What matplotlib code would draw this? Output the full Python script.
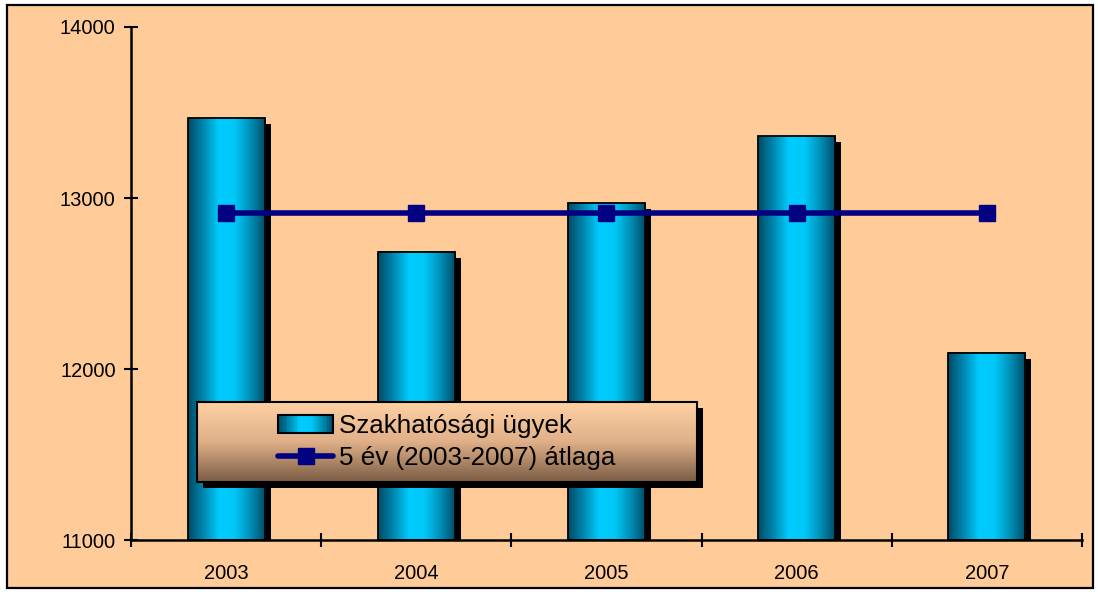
import numpy as np
import matplotlib.pyplot as plt
import matplotlib.transforms as mtransforms
from matplotlib.colors import LinearSegmentedColormap
from matplotlib.patches import Rectangle
from matplotlib.lines import Line2D
from matplotlib.legend_handler import HandlerBase

plt.rcParams['font.family'] = ['Liberation Sans', 'DejaVu Sans']

# adatok
evek = ['2003', '2004', '2005', '2006', '2007']
ugyek = [13465, 12685, 12970, 13362, 12095]
atlag = [12915, 12915, 12915, 12915, 12915]

bar_cmap = LinearSegmentedColormap.from_list(
    'henger', ['#004a66', '#0088b0', '#00ccff', '#00c8f8', '#0090b8', '#004a66'])
leg_cmap = LinearSegmentedColormap.from_list(
    'legenda', ['#ffd2a4', '#e0b088', '#7a5c44'])


class GradientHandler(HandlerBase):
    def create_artists(self, legend, orig_handle, xdescent, ydescent,
                       width, height, fontsize, trans):
        n = 30
        artists = []
        for i in range(n):
            r = Rectangle((-xdescent + width * i / n, -ydescent), width / n + 0.3, height,
                          facecolor=bar_cmap((i + 0.5) / n), edgecolor='none', transform=trans)
            artists.append(r)
        artists.append(Rectangle((-xdescent, -ydescent), width, height, facecolor='none',
                                 edgecolor='black', lw=1.5, transform=trans))
        return artists


fig = plt.figure(figsize=(10.98, 5.92), dpi=100, facecolor='white')
fig.patches.append(Rectangle((0.006, 0.007), 0.989, 0.984, transform=fig.transFigure,
                             facecolor='#ffcc99', edgecolor='black', lw=1.6, zorder=-10))
ax = fig.add_axes([0.1193, 0.0878, 0.8661, 0.8666])
ax.set_facecolor('none')

x = np.arange(len(evek))
w = 0.405
grad = np.linspace(0, 1, 256).reshape(1, -1)

# árnyék
shadow_tr = mtransforms.offset_copy(ax.transData, fig=fig, x=6, y=-6, units='dots')
ax.bar(x, np.array(ugyek) - 11000, w, bottom=11000, color='black', zorder=1,
       transform=shadow_tr)
for xi, v in zip(x, ugyek):
    ax.imshow(grad, extent=(xi - w / 2, xi + w / 2, 11000, v), aspect='auto',
              cmap=bar_cmap, zorder=2, interpolation='bilinear')
    ax.add_patch(Rectangle((xi - w / 2, 11000), w, v - 11000, facecolor='none',
                           edgecolor='black', lw=1.3, zorder=3))

ax.plot(x, atlag, color='#000080', lw=4, marker='s', markersize=12, zorder=4,
        solid_capstyle='round')

ax.set_xlim(-0.5, 4.5)
ax.set_ylim(11000, 14000)
ax.set_yticks([11000, 12000, 13000, 14000])
ax.set_xticks(np.arange(-0.5, 5, 1))
ax.set_xticklabels([])
ax.set_xticks(x, minor=True)
ax.set_xticklabels(evek, minor=True)
ax.tick_params(axis='x', which='major', direction='inout', length=10, width=1.5)
ax.tick_params(axis='x', which='minor', length=0, pad=17, labelsize=14.5)
ax.tick_params(axis='y', direction='inout', length=10, width=1.5, pad=6, labelsize=14.5)
for s in ['top', 'right']:
    ax.spines[s].set_visible(False)
for s in ['left', 'bottom']:
    ax.spines[s].set_linewidth(1.8)

# jelmagyarázat
lx0, ly0, lw_, lh = 0.0694, 0.113, 0.526, 0.156
px = 6 / (951)
py = 6 / (513)
ax.add_patch(Rectangle((lx0 + px, ly0 - py), lw_, lh, transform=ax.transAxes,
                       facecolor='black', edgecolor='none', zorder=5, clip_on=False))
ax.imshow(np.linspace(0, 1, 256).reshape(-1, 1), extent=(lx0, lx0 + lw_, ly0, ly0 + lh),
          transform=ax.transAxes, aspect='auto', cmap=leg_cmap, zorder=6,
          interpolation='bilinear', clip_on=False)
ax.add_patch(Rectangle((lx0, ly0), lw_, lh, transform=ax.transAxes,
                       facecolor='none', edgecolor='black', lw=1.5, zorder=7, clip_on=False))

bar_handle = Rectangle((0, 0), 1, 1)
line_handle = Line2D([], [], color='#000080', lw=4, marker='s', markersize=12,
                     solid_capstyle='round')
leg = ax.legend([bar_handle, line_handle], ['Szakhatósági ügyek', '5 év (2003-2007) átlaga'],
                handler_map={Rectangle: GradientHandler()},
                loc='center', bbox_to_anchor=(lx0, ly0, lw_, lh), frameon=False,
                fontsize=18.7, handlelength=2.1, handletextpad=0.25, labelspacing=0.3,
                borderpad=0.1)
leg.set_zorder(8)

ax.set_xlim(-0.5, 4.5)
ax.set_ylim(11000, 14000)

fig.savefig('out.png', dpi=100)
